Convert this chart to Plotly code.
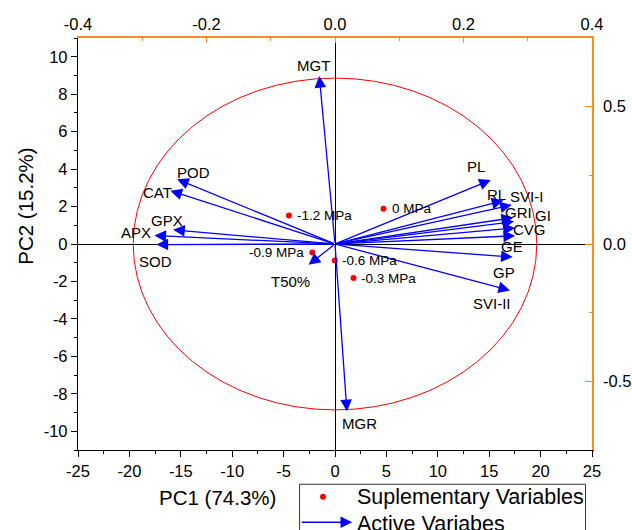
import plotly.graph_objects as go

# ---------------- data ----------------
active_names = ["MGT", "MGR", "POD", "CAT", "GPX", "APX", "SOD", "T50%",
                "PL", "RL", "SVI-I", "GRI", "GI", "CVG", "GE", "GP", "SVI-II"]
active_pc1 = [-1.53, 1.16, -15.36, -16.01, -15.75, -17.57, -17.37, -2.57,
              15.16, 16.38, 17.20, 17.32, 17.42, 17.52, 17.52, 17.29, 17.03]
active_pc2 = [8.97, -8.93, 3.46, 2.85, 0.76, 0.45, -0.03, -1.11,
              3.42, 2.32, 2.09, 1.40, 1.20, 0.86, 0.44, -0.70, -2.48]

supp_names = ["-1.2 MPa", "-0.9 MPa", "0 MPa", "-0.6 MPa", "-0.3 MPa"]
supp_pc1 = [-4.48, -2.21, 4.72, -0.02, 1.80]
supp_pc2 = [1.52, -0.45, 1.88, -0.88, -1.82]

x_ticks = [-25, -20, -15, -10, -5, 0, 5, 10, 15, 20, 25]
x_ticktext = ["-25", "-20", "-15", "-10", "-5", "0", "5", "10", "15", "20", "25"]
y_ticks = [-10, -8, -6, -4, -2, 0, 2, 4, 6, 8, 10]
y_ticktext = ["-10", "-8", "-6", "-4", "-2", "0", "2", "4", "6", "8", "10"]
x2_ticks = [-0.4, -0.2, 0.0, 0.2, 0.4]
x2_ticktext = ["-0.4", "-0.2", "0.0", "0.2", "0.4"]
y2_ticks = [-0.5, 0.0, 0.5]
y2_ticktext = ["-0.5", "0.0", "0.5"]

# label offsets in pixels (xshift, yshift) relative to arrow tips
label_shift = {
    "MGT": (-6, 11), "MGR": (13, -12), "POD": (16, 7), "CAT": (-13, -2),
    "GPX": (-6, 9), "APX": (-18, 3), "SOD": (-1, -17), "T50%": (-18, -17),
    "PL": (-15, 13), "RL": (-7, 6), "SVI-I": (15, 8), "GRI": (5, 5),
    "GI": (29, 6), "CVG": (14, -2), "GE": (-3, -11), "GP": (-9, -15),
    "SVI-II": (-18, -13),
}
# supplementary label placement: (side, xshift)
supp_label = {"-1.2 MPa": ("left", 6), "-0.9 MPa": ("right", -6), "0 MPa": ("left", 6),
              "-0.6 MPa": ("left", 5), "-0.3 MPa": ("left", 5)}

FONT = "Liberation Sans, Arial, sans-serif"
ORANGE = "#FF8C1A"
BLUE = "#0000FF"
HEAD = dict(arrowhead=2, arrowsize=1.8, arrowwidth=1.3, arrowcolor=BLUE)

fig = go.Figure()

# supplementary points
fig.add_trace(go.Scatter(x=supp_pc1, y=supp_pc2, mode="markers",
                         marker=dict(color="red", size=6), showlegend=False,
                         hoverinfo="skip"))
# dummy trace to activate top/right axes
fig.add_trace(go.Scatter(x=[0], y=[0], xaxis="x2", yaxis="y2", mode="markers",
                         marker=dict(opacity=0), showlegend=False, hoverinfo="skip"))

# correlation ellipse
fig.add_shape(type="circle", xref="x", yref="y", x0=-19.63, x1=19.63, y0=-8.86, y1=8.86,
              line=dict(color="red", width=1), layer="below")

annotations = []
for n, xv, yv in zip(active_names, active_pc1, active_pc2):
    annotations.append(dict(x=xv, y=yv, ax=0, ay=0, xref="x", yref="y", axref="x", ayref="y",
                            text="", showarrow=True, **HEAD))
    xs, ys = label_shift[n]
    annotations.append(dict(x=xv, y=yv, xref="x", yref="y", text=n, showarrow=False,
                            xanchor="center", yanchor="middle",
                            xshift=xs, yshift=ys, font=dict(family=FONT, size=15, color="black")))

for n, xv, yv in zip(supp_names, supp_pc1, supp_pc2):
    side, xs = supp_label[n]
    annotations.append(dict(x=xv, y=yv, xref="x", yref="y", text=n, showarrow=False,
                            xanchor=side, yanchor="middle", xshift=xs,
                            font=dict(family=FONT, size=13.5, color="black")))

# axis titles
annotations.append(dict(x=0.2706, y=-0.1164, xref="paper", yref="paper", text="PC1 (74.3%)",
                        xanchor="center", yanchor="middle",
                        showarrow=False, font=dict(family=FONT, size=20.5, color="black")))
annotations.append(dict(x=-0.102, y=0.5918, xref="paper", yref="paper", text="PC2 (15.2%)",
                        xanchor="center", yanchor="middle",
                        showarrow=False, textangle=-90,
                        font=dict(family=FONT, size=20.5, color="black")))

# manual legend
fig.add_shape(type="rect", xref="paper", yref="paper", x0=0.4311, x1=0.9874, y0=-0.0832,
              y1=-0.2183, line=dict(color="#333333", width=1), fillcolor="white")
fig.add_shape(type="circle", xref="paper", yref="paper", x0=0.4767 - 0.0058, x1=0.4767 + 0.0058,
              y0=-0.1133 - 0.0073, y1=-0.1133 + 0.0073, line=dict(color="red", width=0),
              fillcolor="red")
annotations.append(dict(x=0.5335, y=-0.1754, xref="paper", yref="paper", ax=-52, ay=0,
                        text="", showarrow=True, **HEAD))
annotations.append(dict(x=0.5394, y=-0.1152, xref="paper", yref="paper", xanchor="left",
                        yanchor="middle",
                        text="Suplementary Variables", showarrow=False,
                        font=dict(family=FONT, size=21.5, color="black")))
annotations.append(dict(x=0.5394, y=-0.1795, xref="paper", yref="paper", xanchor="left",
                        yanchor="middle",
                        text="Active Variabes", showarrow=False,
                        font=dict(family=FONT, size=21.5, color="black")))

tickfont = dict(family=FONT, size=16.5, color="black")

fig.update_layout(
    width=632, height=530,
    margin=dict(l=77.5, r=40, t=37.5, b=80, pad=0, autoexpand=False),
    paper_bgcolor="white", plot_bgcolor="white",
    showlegend=False,
    annotations=annotations,
    xaxis=dict(range=[-25, 25], tickmode="array", tickvals=x_ticks, ticktext=x_ticktext,
               ticks="outside", ticklen=6, tickwidth=1.3, tickcolor="black",
               minor=dict(tickmode="linear", tick0=0, dtick=2.5, ticks="outside", ticklen=3,
                          tickcolor="black", tickwidth=1.3),
               showline=True, linecolor="black", linewidth=1.3, showgrid=False,
               zeroline=True, zerolinecolor="black", zerolinewidth=1.3, automargin=False,
               tickfont=tickfont, fixedrange=True),
    yaxis=dict(range=[-11, 11], tickmode="array", tickvals=y_ticks, ticktext=y_ticktext,
               ticks="outside", ticklen=6, tickwidth=1.3, tickcolor="black",
               minor=dict(tickmode="linear", tick0=0, dtick=1, ticks="outside", ticklen=3,
                          tickcolor="black", tickwidth=1.3),
               showline=True, linecolor="black", linewidth=1.3, showgrid=False,
               zeroline=True, zerolinecolor="black", zerolinewidth=1.3, automargin=False,
               tickfont=tickfont, fixedrange=True),
    xaxis2=dict(range=[-0.4, 0.4], overlaying="x", side="top", anchor="y",
                tickmode="array", tickvals=x2_ticks, ticktext=x2_ticktext,
                ticks="inside", ticklen=5, tickwidth=1.3, tickcolor=ORANGE,
                minor=dict(tickmode="linear", tick0=0, dtick=0.1, ticks="inside", ticklen=3,
                           tickcolor=ORANGE, tickwidth=1.3),
                showline=True, linecolor=ORANGE, linewidth=1.5, showgrid=False, zeroline=False,
                automargin=False, tickfont=tickfont, fixedrange=True),
    yaxis2=dict(range=[-0.75, 0.75], overlaying="y", side="right", anchor="x",
                tickmode="array", tickvals=y2_ticks, ticktext=y2_ticktext,
                ticks="inside", ticklen=7, tickwidth=1.3, tickcolor=ORANGE,
                minor=dict(tickmode="linear", tick0=0, dtick=0.25, ticks="inside", ticklen=3,
                           tickcolor=ORANGE, tickwidth=1.3),
                showline=True, linecolor=ORANGE, linewidth=1.5, showgrid=False, zeroline=False,
                automargin=False, ticklabelstandoff=6, tickfont=tickfont, fixedrange=True),
)

fig.write_html("out.html", config={"displayModeBar": False})
